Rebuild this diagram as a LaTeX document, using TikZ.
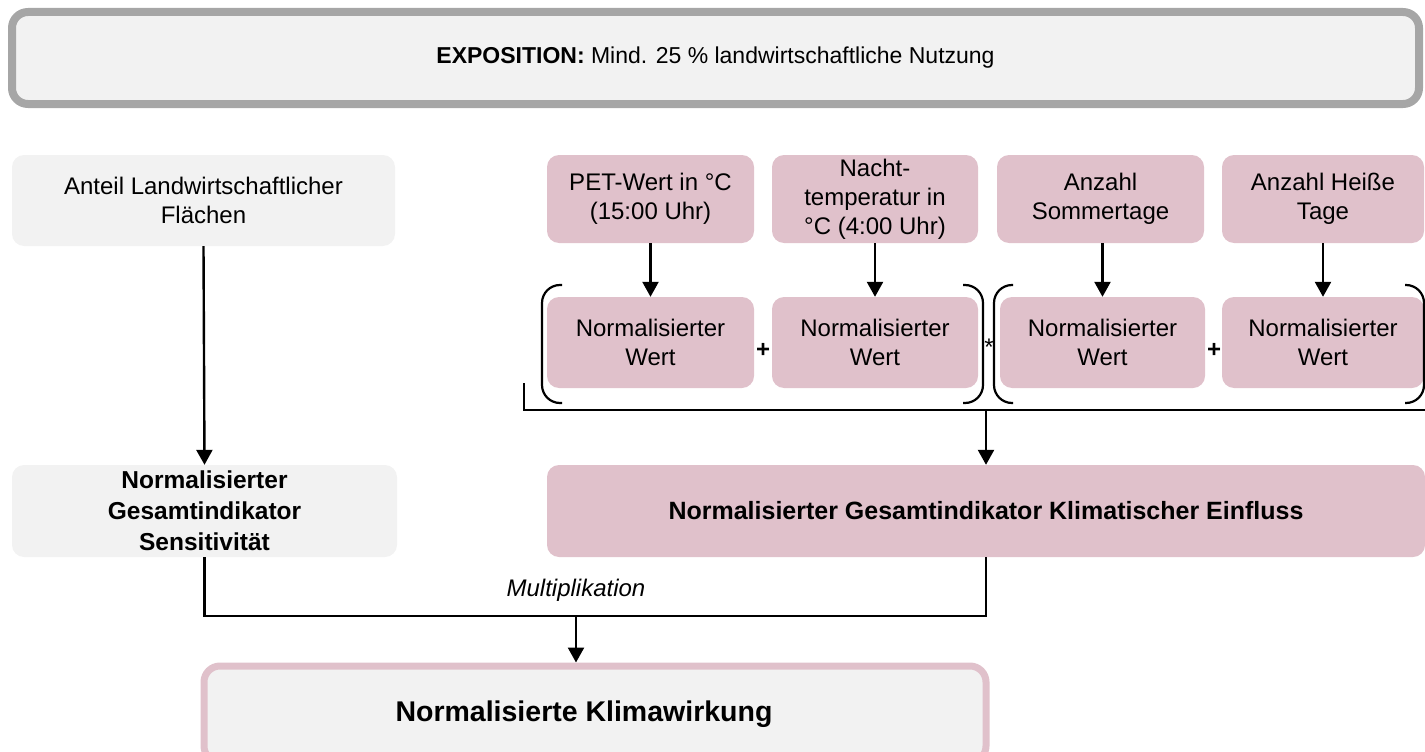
\documentclass[tikz,border=0pt]{standalone}
\usepackage{fontspec}
\setmainfont{Liberation Sans}
\usepackage{xcolor}
\usetikzlibrary{arrows.meta}
\definecolor{rosa}{HTML}{E0C1CB}
\definecolor{hellgrau}{HTML}{F2F2F2}
\definecolor{randgrau}{HTML}{A6A6A6}
\tikzset{
  kasten/.style={rounded corners=12pt, align=center, inner sep=2pt,
    font=\fontsize{24}{29}\selectfont},
  grau/.style={kasten, fill=hellgrau},
  pink/.style={kasten, fill=rosa},
  pfeil/.style={line width=2.4pt, -{Triangle[width=16pt,length=15pt]}},
  klammer/.style={line width=2.2pt, rounded corners=18pt},
  linie/.style={line width=2.2pt}
}

\begin{document}
\begin{tikzpicture}[x=1pt,y=-1pt]
\useasboundingbox (0,0) rectangle (1425,752);
% Kopfzeile
\node[kasten, fill=hellgrau, draw=randgrau, line width=8pt, rounded corners=16pt,
  minimum width=1407pt, minimum height=92pt, font=\fontsize{23}{28}\selectfont]
  (expo) at (715.5,58) {\textbf{EXPOSITION:} Mind. 25 \% landwirtschaftliche Nutzung};
% Sensitivitaet
\node[grau, minimum width=383pt, minimum height=91pt] (anteil) at (203.5,200.5)
  {Anteil Landwirtschaftlicher\\Flächen};
\node[grau, minimum width=385pt, minimum height=92pt, font=\fontsize{24.5}{31}\selectfont\bfseries]
  (sens) at (204.5,511) {Normalisierter\\Gesamtindikator\\Sensitivität};
% Klimatischer Einfluss
\node[pink, minimum width=207pt, minimum height=88pt] (pet) at (650.5,199) {PET-Wert in °C\\(15:00 Uhr)};
\node[pink, minimum width=206pt, minimum height=88pt] (nacht) at (875,199) {Nacht-\\temperatur in\\°C (4:00 Uhr)};
\node[pink, minimum width=207pt, minimum height=88pt] (sommer) at (1100.5,199) {Anzahl\\Sommertage};
\node[pink, minimum width=202pt, minimum height=88pt] (heiss) at (1323,199) {Anzahl Heiße\\Tage};

\node[pink, minimum width=207pt, minimum height=91pt] (norm1) at (650.5,342.5) {Normalisierter\\Wert};
\node[pink, minimum width=206pt, minimum height=91pt] (norm2) at (875,342.5) {Normalisierter\\Wert};
\node[pink, minimum width=205pt, minimum height=91pt] (norm3) at (1102.5,342.5) {Normalisierter\\Wert};
\node[pink, minimum width=202pt, minimum height=91pt] (norm4) at (1323,342.5) {Normalisierter\\Wert};

\node[font=\fontsize{24}{29}\selectfont\bfseries] (plus1) at (763,350) {+};
\node[font=\fontsize{24}{29}\selectfont] (mal) at (989,347) {*};
\node[font=\fontsize{24}{29}\selectfont\bfseries] (plus2) at (1214,350) {+};

\draw[klammer] (562,285) -- (542,285) -- (542,403) -- (562,403);
\draw[klammer] (963,285) -- (983,285) -- (983,403) -- (963,403);
\draw[klammer] (1013,285) -- (994,285) -- (994,403) -- (1013,403);
\draw[klammer] (1405,285) -- (1424,285) -- (1424,403) -- (1405,403);

\node[pink, minimum width=878pt, minimum height=92pt, font=\fontsize{25}{29}\selectfont\bfseries]
  (klima) at (986,511) {Normalisierter Gesamtindikator Klimatischer Einfluss};

% Ergebnis
\node[kasten, fill=hellgrau, draw=rosa, line width=7pt, rounded corners=16pt,
  minimum width=782pt, minimum height=96pt, font=\fontsize{28.5}{34}\selectfont\bfseries]
  (wirkung) at (595,714) {\hspace*{-22pt}Normalisierte Klimawirkung};

\node[font=\fontsize{24}{28}\selectfont\itshape] (multi) at (576,590) {Multiplikation};

% Verbindungen
\draw[pfeil] (anteil.south) -- (sens.north);
\draw[pfeil] (pet.south) -- (norm1.north);
\draw[pfeil] (nacht.south) -- (norm2.north);
\draw[pfeil] (norm3.north |- sommer.south) -- (norm3.north);
\draw[pfeil] (heiss.south) -- (norm4.north);

\coordinate (kl) at (524,383);
\coordinate (kr) at (1425,410);
\draw[linie] (kl) |- (kr);
\coordinate (knoten) at (klima.north |- kr);
\draw[pfeil] (knoten) -- (klima.north);

\draw[linie] (sens.south) -- ++(0,59) -| (klima.south);
\coordinate (mitte) at (576,616);
\draw[pfeil] (mitte) -- (mitte |- wirkung.north);
\end{tikzpicture}
\end{document}
